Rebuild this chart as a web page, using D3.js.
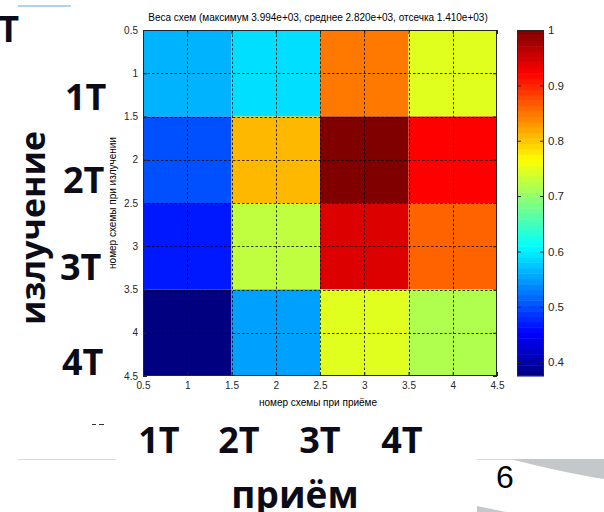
<!DOCTYPE html>
<html><head><meta charset="utf-8">
<script src="https://cdn.jsdelivr.net/npm/d3@7"></script>
<style>
html,body{margin:0;padding:0;background:#fff;}
svg{display:block;}
</style></head>
<body>
<script>
// ---- data ----
const rxSchemes = [1, 2, 3, 4];          // номер схемы при приёме (x)
const txSchemes = [1, 2, 3, 4];          // номер схемы при излучении (y)
const weightsTx1 = [0.563, 0.590, 0.848, 0.747];
const weightsTx2 = [0.502, 0.809, 1.000, 0.922];
const weightsTx3 = [0.468, 0.727, 0.943, 0.861];
const weightsTx4 = [0.375, 0.551, 0.747, 0.717];
const axisTicks = [0.5, 1, 1.5, 2, 2.5, 3, 3.5, 4, 4.5];
const colorbarTicks = [0.4, 0.5, 0.6, 0.7, 0.8, 0.9, 1];
const colorMin = 0.375, colorMax = 1.0;
const titleText = "Веса схем (максимум 3.994e+03, среднее 2.820e+03, отсечка 1.410e+03)";
const xLabel = "номер схемы при приёме";
const yLabel = "номер схемы при излучении";
const rowLabels = ["1Т", "2Т", "3Т", "4Т"];
const colLabels = ["1Т", "2Т", "3Т", "4Т"];

const weights = [weightsTx1, weightsTx2, weightsTx3, weightsTx4];
const cells = [];
txSchemes.forEach((ty, i) => rxSchemes.forEach((rx, j) => cells.push({x: rx, y: ty, v: weights[i][j]})));

// ---- jet colormap ----
function jet(t) {
  const c = v => Math.max(0, Math.min(1, v));
  const r = c(1.5 - Math.abs(4 * t - 3));
  const g = c(1.5 - Math.abs(4 * t - 2));
  const b = c(1.5 - Math.abs(4 * t - 1));
  return d3.rgb(r * 255, g * 255, b * 255).toString();
}
const tScale = d3.scaleLinear().domain([colorMin, colorMax]).range([0, 1]).clamp(true);
const color = v => jet(tScale(v));

const W = 604, H = 512;
const svg = d3.select("body").append("svg").attr("width", W).attr("height", H);

const L = 143, R = 497, T = 30, B = 376;
const x = d3.scaleLinear().domain([0.5, 4.5]).range([L, R]);
const y = d3.scaleLinear().domain([0.5, 4.5]).range([T, B]);
const fmt = d3.format("~g");
const tickFont = "'Liberation Sans', Arial, sans-serif";

// cells
svg.append("g").selectAll("rect").data(cells).join("rect")
  .attr("x", d => x(d.x - 0.5)).attr("y", d => y(d.y - 0.5))
  .attr("width", d => x(d.x + 0.5) - x(d.x - 0.5))
  .attr("height", d => y(d.y + 0.5) - y(d.y - 0.5))
  .attr("fill", d => color(d.v));

// grid
const inner = axisTicks.slice(1, -1);
const grid = svg.append("g").attr("stroke", "#000").attr("stroke-opacity", 0.75)
  .attr("stroke-width", 1).attr("stroke-dasharray", "2.5,2");
grid.selectAll(".gx").data(inner).join("line")
  .attr("x1", d => Math.round(x(d)) + 0.5).attr("x2", d => Math.round(x(d)) + 0.5)
  .attr("y1", T).attr("y2", B);
grid.selectAll(".gy").data(inner).join("line")
  .attr("y1", d => Math.round(y(d)) + 0.5).attr("y2", d => Math.round(y(d)) + 0.5)
  .attr("x1", L).attr("x2", R);

// axes
function styleAxis(g) {
  g.select(".domain").remove();
  g.selectAll(".tick line").attr("stroke", "#262626");
  g.selectAll(".tick text").attr("fill", "#262626").style("font-family", tickFont).style("font-size", "10px");
}
svg.append("g").attr("transform", `translate(0,${B})`)
  .call(d3.axisBottom(x).tickValues(axisTicks).tickFormat(fmt).tickSizeInner(-4).tickSizeOuter(0).tickPadding(6))
  .call(styleAxis);
svg.append("g").attr("transform", `translate(${L},0)`)
  .call(d3.axisLeft(y).tickValues(axisTicks).tickFormat(fmt).tickSizeInner(-4).tickSizeOuter(0).tickPadding(5))
  .call(styleAxis);
svg.append("g").attr("transform", `translate(0,${T})`)
  .call(d3.axisTop(x).tickValues(axisTicks).tickFormat("").tickSizeInner(-4).tickSizeOuter(0))
  .call(styleAxis);
svg.append("g").attr("transform", `translate(${R},0)`)
  .call(d3.axisRight(y).tickValues(axisTicks).tickFormat("").tickSizeInner(-4).tickSizeOuter(0))
  .call(styleAxis);
svg.append("rect").attr("x", L + 0.5).attr("y", T + 0.5).attr("width", R - L - 1).attr("height", B - T - 1)
  .attr("fill", "none").attr("stroke", "#262626").attr("stroke-width", 1);

// title & labels
svg.append("text").attr("x", (L + R) / 2 - 2).attr("y", 21).attr("text-anchor", "middle")
  .style("font-family", tickFont).style("font-size", "10px").attr("fill", "#000").text(titleText);
svg.append("text").attr("x", 318).attr("y", 406).attr("text-anchor", "middle")
  .style("font-family", tickFont).style("font-size", "10px").attr("fill", "#000").text(xLabel);
svg.append("text").attr("transform", `translate(116,${(T + B) / 2}) rotate(-90)`).attr("text-anchor", "middle")
  .style("font-family", tickFont).style("font-size", "10px").attr("fill", "#000").text(yLabel);

// colorbar
const CL = 517, CR = 544;
const cy = d3.scaleLinear().domain([colorMin, colorMax]).range([B, T]);
const nBands = 64;
const bands = d3.range(nBands);
svg.append("g").selectAll("rect").data(bands).join("rect")
  .attr("x", CL).attr("width", CR - CL)
  .attr("y", i => cy(colorMin + (i + 1) * (colorMax - colorMin) / nBands))
  .attr("height", (B - T) / nBands + 0.5)
  .attr("fill", i => jet((i + 0.5) / nBands));
svg.append("g").attr("transform", `translate(${CR},0)`)
  .call(d3.axisRight(cy).tickValues(colorbarTicks).tickFormat(fmt).tickSizeInner(-4).tickSizeOuter(0).tickPadding(4))
  .call(g => { styleAxis(g); g.selectAll(".tick text").style("font-size", "11.5px"); });
svg.append("g").attr("transform", `translate(${CL},0)`)
  .call(d3.axisLeft(cy).tickValues(colorbarTicks).tickFormat("").tickSizeInner(-4).tickSizeOuter(0))
  .call(styleAxis);
svg.append("rect").attr("x", CL + 0.5).attr("y", T + 0.5).attr("width", CR - CL - 1).attr("height", B - T - 1)
  .attr("fill", "none").attr("stroke", "#262626");

// slide decorations
const big = "'Open Sans', 'DejaVu Sans', sans-serif";
const ink = "#0c0c18";
function bigText(txt, xx, yy, anchor, size) {
  return svg.append("text").attr("x", xx).attr("y", yy).attr("text-anchor", anchor || "start")
    .style("font-family", big).style("font-weight", 700).style("font-size", (size || 36) + "px")
    .attr("fill", ink).text(txt);
}
bigText("Т", 19, 42, "end");
const rowX = [65, 63, 60, 62], rowY = [110, 193, 280, 375];
rowLabels.forEach((t, i) => bigText(t, rowX[i], rowY[i]));
const colX = [159, 239, 320, 402];
colLabels.forEach((t, i) => bigText(t, colX[i], 453, "middle"));
bigText("приём", 295, 508, "middle", 37);
svg.append("text").attr("transform", "translate(45,228) rotate(-90)").attr("text-anchor", "middle")
  .style("font-family", big).style("font-weight", 700).style("font-size", "34px").attr("fill", ink).text("излучение");

svg.append("text").attr("x", 496).attr("y", 488).style("font-family", tickFont).style("font-size", "32px")
  .attr("fill", "#000").text("6");

svg.append("line").attr("x1", 18).attr("x2", 71).attr("y1", 6).attr("y2", 6).attr("stroke", "#8ec5f0").attr("stroke-width", 1.5);
svg.append("line").attr("x1", 18).attr("x2", 116).attr("y1", 459.5).attr("y2", 459.5).attr("stroke", "#d3dde9");
svg.append("line").attr("x1", 477).attr("x2", 512).attr("y1", 459.5).attr("y2", 459.5).attr("stroke", "#d3dde9");
svg.append("path").attr("d", "M510,459 L604,459 L604,479 Q565,473 510,459 Z").attr("fill", "#c4c8cb");
svg.append("path").attr("d", "M477,506 L506,512 L477,512 Z").attr("fill", "#c4c8cb");
svg.append("line").attr("x1", 92).attr("x2", 96).attr("y1", 424.5).attr("y2", 424.5).attr("stroke", "#333");
svg.append("line").attr("x1", 99).attr("x2", 104).attr("y1", 424.5).attr("y2", 424.5).attr("stroke", "#333");
</script>
</body></html>
